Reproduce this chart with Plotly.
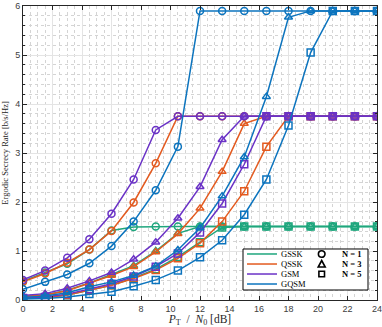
import plotly.graph_objects as go

snr_db = [0, 1.5, 3, 4.5, 6, 7.5, 9, 10.5, 12, 13.5, 15, 16.5, 18, 19.5, 21, 22.5, 24]

gssk_n1 = [0.38, 0.56, 0.74, 1.03, 1.42, 1.49, 1.50, 1.50, 1.50, 1.50, 1.50, 1.50, 1.50, 1.50, 1.50, 1.50, 1.50]
qssk_n1 = [0.37, 0.54, 0.76, 1.03, 1.41, 1.99, 2.79, 3.75, 3.75, 3.75, 3.75, 3.75, 3.75, 3.75, 3.75, 3.75, 3.75]
gsm_n1 = [0.41, 0.60, 0.86, 1.24, 1.76, 2.46, 3.47, 3.75, 3.75, 3.75, 3.75, 3.75, 3.75, 3.75, 3.75, 3.75, 3.75]
gqsm_n1 = [0.22, 0.37, 0.52, 0.75, 1.10, 1.60, 2.24, 3.13, 5.90, 5.90, 5.90, 5.90, 5.90, 5.90, 5.90, 5.90, 5.90]

gssk_n3 = [0.07, 0.10, 0.20, 0.35, 0.52, 0.70, 1.00, 1.36, 1.50, 1.50, 1.50, 1.50, 1.50, 1.50, 1.50, 1.50, 1.50]
qssk_n3 = [0.07, 0.10, 0.19, 0.34, 0.50, 0.68, 0.98, 1.35, 1.87, 2.62, 3.60, 3.75, 3.75, 3.75, 3.75, 3.75, 3.75]
gsm_n3 = [0.09, 0.13, 0.24, 0.39, 0.56, 0.83, 1.18, 1.67, 2.31, 3.27, 3.75, 3.75, 3.75, 3.75, 3.75, 3.75, 3.75]
gqsm_n3 = [0.05, 0.08, 0.15, 0.27, 0.37, 0.50, 0.69, 1.02, 1.47, 2.12, 2.92, 4.15, 5.77, 5.90, 5.90, 5.90, 5.90]

gssk_n5 = [0.03, 0.05, 0.10, 0.20, 0.30, 0.45, 0.63, 0.88, 1.18, 1.48, 1.50, 1.50, 1.50, 1.50, 1.50, 1.50, 1.50]
qssk_n5 = [0.03, 0.05, 0.10, 0.20, 0.30, 0.44, 0.61, 0.85, 1.16, 1.60, 2.22, 3.13, 3.75, 3.75, 3.75, 3.75, 3.75]
gsm_n5 = [0.04, 0.06, 0.12, 0.22, 0.33, 0.48, 0.68, 0.95, 1.38, 1.97, 2.77, 3.75, 3.75, 3.75, 3.75, 3.75, 3.75]
gqsm_n5 = [0.02, 0.03, 0.06, 0.12, 0.17, 0.28, 0.41, 0.60, 0.87, 1.22, 1.74, 2.46, 3.56, 5.05, 5.90, 5.90, 5.90]

schemes = ["GSSK", "QSSK", "GSM", "GQSM"]
colors = ["#1fa67d", "#e35a1f", "#6a32c6", "#0c74be"]
n_labels = ["N = 1", "N = 3", "N = 5"]
symbols = ["circle-open", "triangle-up-open", "square-open"]

rates = [
    [gssk_n1, gssk_n3, gssk_n5],
    [qssk_n1, qssk_n3, qssk_n5],
    [gsm_n1, gsm_n3, gsm_n5],
    [gqsm_n1, gqsm_n3, gqsm_n5],
]

serif = "Liberation Serif"

fig = go.Figure()

# triangles end up on top of the squares where the curves saturate
draw_order = [0, 2, 1]
for name, color, series in zip(schemes, colors, rates):
    for k in draw_order:
        fig.add_trace(go.Scatter(
            x=snr_db,
            y=series[k],
            mode="lines+markers",
            name=f"{name}, {n_labels[k]}",
            line=dict(color=color, width=1.5),
            marker=dict(symbol=symbols[k], size=7, color=color,
                        line=dict(color=color, width=1.5)),
            showlegend=False
        ))

fig.update_layout(
    width=382,
    height=327,
    margin=dict(l=23, r=5, t=6, b=27),
    plot_bgcolor="white",
    paper_bgcolor="white",
    showlegend=False,
    font=dict(family="Liberation Sans", size=9, color="#404040")
)

axis_style = dict(
    ticks="inside",
    ticklen=4,
    tickcolor="#262626",
    showline=True,
    linecolor="#262626",
    linewidth=1,
    mirror="ticks",
    showgrid=True,
    gridcolor="#e4e4e4",
    gridwidth=1,
    zeroline=False,
    automargin=False,
    ticklabeloverflow="allow"
)

fig.update_xaxes(
    range=[0, 24],
    dtick=2,
    minor=dict(dtick=0.5, ticks="", showgrid=True,
               gridcolor="#d4d4d4", griddash="dot", gridwidth=1),
    title=dict(text="<i>P</i><sub>T</sub>  /  <i>N</i><sub>0</sub> [dB]",
               font=dict(family=serif, size=11.5, color="#262626"), standoff=1),
    **axis_style
)

fig.update_yaxes(
    range=[0, 6],
    dtick=1,
    minor=dict(dtick=0.2, ticks="inside", ticklen=2, tickcolor="#262626",
               showgrid=True, gridcolor="#d4d4d4", griddash="dot", gridwidth=1),
    title=dict(text="Ergodic Secrecy Rate [b/s/Hz]",
               font=dict(family=serif, size=8.5, color="#262626"), standoff=5),
    **axis_style
)

# legend drawn by hand: two columns inside one box
row_y = [0.1565, 0.1224, 0.0884, 0.0544]
fig.add_shape(type="rect", xref="paper", yref="paper",
              x0=0.6215, x1=0.9746, y0=0.034, y1=0.1735,
              line=dict(color="#000000", width=1), fillcolor="white")

for name, color, yy in zip(schemes, colors, row_y):
    fig.add_shape(type="line", xref="paper", yref="paper",
                  x0=0.6328, x1=0.7175, y0=yy, y1=yy,
                  line=dict(color=color, width=1.5))
    fig.add_annotation(x=0.7232, y=yy, xref="paper", yref="paper",
                       text=name, showarrow=False, xanchor="left", yanchor="middle",
                       font=dict(family=serif, size=8.5, color="#000000"))

for i, (n_label, yy) in enumerate(zip(n_labels, row_y)):
    common = dict(xref="paper", yref="paper", xsizemode="pixel", ysizemode="pixel",
                  xanchor=0.8438, yanchor=yy, line=dict(color="#000000", width=1.6))
    if i == 0:
        fig.add_shape(type="circle", x0=-3.3, x1=3.3, y0=-3.3, y1=3.3, **common)
    elif i == 1:
        fig.add_shape(type="path", path="M -3.5,-3 L 3.5,-3 L 0,3.5 Z", **common)
    else:
        fig.add_shape(type="rect", x0=-2.8, x1=2.8, y0=-2.8, y1=2.8, **common)
    fig.add_annotation(x=0.8955, y=yy, xref="paper", yref="paper",
                       text=f"<b>{n_label}</b>", showarrow=False,
                       xanchor="left", yanchor="middle",
                       font=dict(family=serif, size=8.5, color="#000000"))

# page has a default body margin; remove it so the figure sits at the window corner
fig.write_html("out.html", config={"displayModeBar": False},
               post_script="document.body.style.margin='0px';")
